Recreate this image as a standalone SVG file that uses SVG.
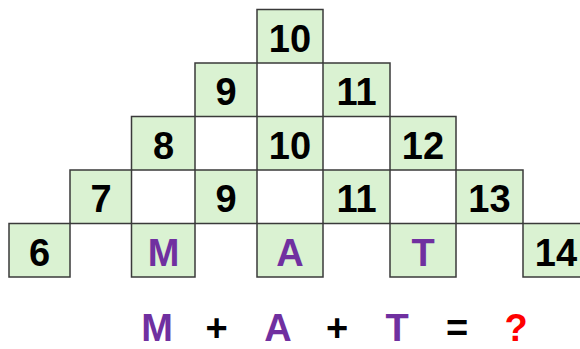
<svg xmlns="http://www.w3.org/2000/svg" width="580" height="349" viewBox="0 0 580 349">
<style>
.b{fill:#daf2d2;stroke:#3a3a3a;stroke-width:1.5}
.t{font-family:"Liberation Sans",Arial,sans-serif;font-weight:bold;font-size:38px;text-anchor:middle;fill:#000}
.p{fill:#7030a0}
.r{fill:#ff0000}
</style>
<rect width="580" height="349" fill="#fff"/>
<g id="r1c4"><rect class="b" x="257" y="9.5" width="66" height="53.5"/><text class="t" x="290" y="51.5">10</text></g>
<g id="r2c3"><rect class="b" x="195" y="63" width="62" height="53.5"/><text class="t" x="226" y="105">9</text></g>
<g id="r2c5"><rect class="b" x="323" y="63" width="67" height="53.5"/><text class="t" x="356.5" y="105">11</text></g>
<g id="r3c2"><rect class="b" x="131.5" y="116.5" width="63.5" height="53.5"/><text class="t" x="163.5" y="158.5">8</text></g>
<g id="r3c4"><rect class="b" x="257" y="116.5" width="66" height="53.5"/><text class="t" x="290" y="158.5">10</text></g>
<g id="r3c6"><rect class="b" x="390" y="116.5" width="66" height="53.5"/><text class="t" x="423" y="158.5">12</text></g>
<g id="r4c1"><rect class="b" x="70" y="170" width="61.5" height="53.5"/><text class="t" x="101" y="212">7</text></g>
<g id="r4c3"><rect class="b" x="195" y="170" width="62" height="53.5"/><text class="t" x="226" y="212">9</text></g>
<g id="r4c5"><rect class="b" x="323" y="170" width="67" height="53.5"/><text class="t" x="356.5" y="212">11</text></g>
<g id="r4c7"><rect class="b" x="456" y="170" width="67" height="53.5"/><text class="t" x="489.5" y="212">13</text></g>
<g id="r5c0"><rect class="b" x="9" y="223.5" width="61" height="53.5"/><text class="t" x="39.5" y="265.5">6</text></g>
<g id="r5c2"><rect class="b" x="131.5" y="223.5" width="63.5" height="53.5"/><text class="t p" x="163.5" y="265.5">M</text></g>
<g id="r5c4"><rect class="b" x="257" y="223.5" width="66" height="53.5"/><text class="t p" x="290" y="265.5">A</text></g>
<g id="r5c6"><rect class="b" x="390" y="223.5" width="66" height="53.5"/><text class="t p" x="423" y="265.5">T</text></g>
<g id="r5c8"><rect class="b" x="523" y="223.5" width="66" height="53.5"/><text class="t" x="556" y="265.5">14</text></g>
<g id="equation">
<text class="t p" x="157" y="340.5">M</text>
<text class="t" x="216.5" y="340.5">+</text>
<text class="t p" x="278" y="340.5">A</text>
<text class="t" x="337" y="340.5">+</text>
<text class="t p" x="397" y="340.5">T</text>
<text class="t" x="457" y="340.5">=</text>
<text class="t r" x="516" y="340.5">?</text>
</g>
</svg>
